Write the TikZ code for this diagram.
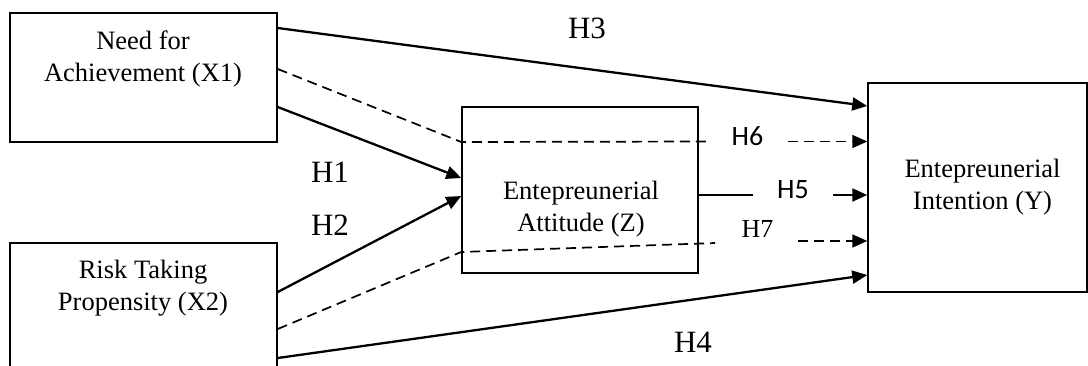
\documentclass[tikz,border=0pt]{standalone}
\usepackage{fontspec}
\setmainfont{Liberation Serif}
\newfontfamily\calib{Carlito}
\usetikzlibrary{arrows.meta}
\begin{document}
\begin{tikzpicture}[x=1pt,y=-1pt,
  box/.style={draw, line width=1.5pt, inner sep=0pt},
  btext/.style={anchor=north, align=center, inner sep=0pt, font=\fontsize{26.5}{32}\selectfont},
  hlab/.style={inner sep=0pt, font=\fontsize{31}{36}\selectfont},
  hsans/.style={inner sep=0pt, font=\calib\fontsize{28}{32}\selectfont},
  sol/.style={line width=2.3pt},
  dsh/.style={line width=1.7pt, dash pattern=on 10pt off 6pt},
  tip/.style={-{Triangle[length=15pt,width=13pt]}}
]
\useasboundingbox (0,0) rectangle (1088,365);
% boxes
\node[box, minimum width=267pt, minimum height=129pt] (x1) at (143.5,77.5) {};
\node[box, minimum width=267pt, minimum height=127pt] (x2) at (143.5,306.5) {};
\node[box, minimum width=236pt, minimum height=166pt] (z) at (580,190) {};
\node[box, minimum width=219pt, minimum height=209pt] (y) at (977.5,187.5) {};
% box texts
\node[btext] (x1t) at (143,30.5) {Need for\\Achievement (X1)};
\node[btext] (x2t) at (143,259.5) {Risk Taking\\Propensity (X2)};
\node[btext] (zt) at (581,180.5) {Entepreunerial\\Attitude (Z)};
\node[btext] (yt) at (982.5,158.5) {Entepreunerial\\Intention (Y)};
% gap coordinates
\coordinate (g6a) at (710,141.5);
\coordinate (g6b) at (788,141.5);
\coordinate (g5a) at (753,195);
\coordinate (g5b) at (833,195);
\coordinate (g7a) at (715,243);
\coordinate (g7b) at (798,241);
% connectors
\draw[sol,tip] ([yshift=49.5pt]x1.east) -- ([yshift=81.5pt]y.west);
\draw[sol,tip] ([yshift=-29.5pt]x1.east) -- ([yshift=12pt]z.west);
\draw[sol,tip] ([yshift=14.5pt]x2.east) -- ([yshift=-6pt]z.west);
\draw[sol,tip] ([yshift=-51.5pt]x2.east) -- ([yshift=-87.5pt]y.west);
\draw[dsh] ([yshift=8.5pt]x1.east) -- ([yshift=48pt]z.west) -- (g6a);
\draw[dsh,tip] (g6b) -- ([yshift=46pt]y.west);
\draw[dsh] ([yshift=-22.5pt]x2.east) -- ([yshift=-62pt]z.west) -- (g7a);
\draw[dsh,tip] (g7b) -- ([yshift=-53.5pt]y.west);
\draw[sol] ([yshift=-5pt]z.east) -- (g5a);
\draw[sol,tip] (g5b) -- ([yshift=-7.5pt]y.west);
% labels
\node[hlab] (h3) at (587,28.5) {H3};
\node[hlab] (h1) at (330,172) {H1};
\node[hlab] (h2) at (330,225) {H2};
\node[hlab] (h4) at (693,342.5) {H4};
\node[hsans] (h6) at (747.5,136) {H6};
\node[hsans] (h5) at (793,190) {H5};
\node[hlab, font=\fontsize{26}{30}\selectfont] (h7) at (757.5,228.5) {H7};
\end{tikzpicture}
\end{document}
